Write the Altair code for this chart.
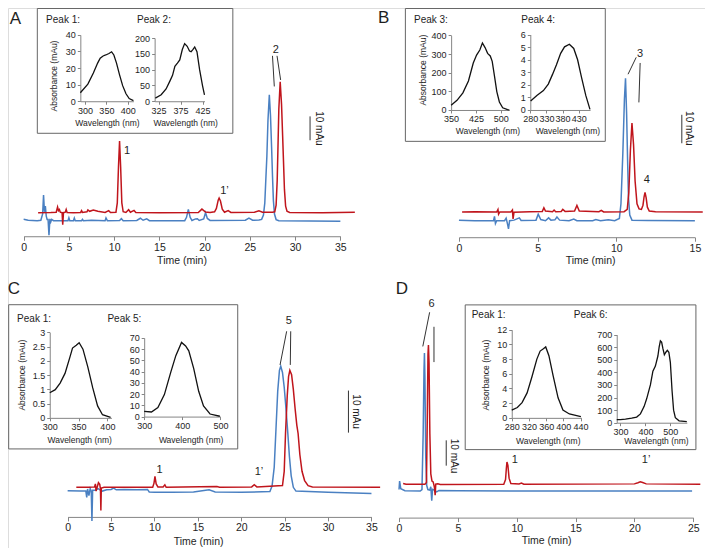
import altair as alt
import pandas as pd

# ---------------- chromatogram data: (time [min], signal [mAu]) ----------------
A_blue = [(0.0,0.6),(0.5,0.2),(1.0,0.1),(1.5,0.0),(1.9,0.2),(2.1,3.0),(2.2,11.5),(2.3,4.0),(2.4,6.5),(2.5,2.0),
          (2.6,0.5),(2.7,0.5),(2.8,-6.5),(2.9,0.8),(3.0,-0.5),(3.1,0.6),(3.3,0.0),(4.9,0.0),(5.0,1.3),(5.1,0.0),
          (5.5,0.0),(5.6,1.2),(5.7,0.0),(6.4,0.0),(6.5,0.6),(6.6,0.0),(7.5,0.2),(9.0,0.0),(9.1,1.2),(9.25,0.0),
          (10.6,0.1),(10.8,0.9),(11.0,0.0),(12.5,0.1),(12.9,1.1),(13.2,0.2),(13.6,0.8),(13.9,0.0),(17.8,0.0),
          (18.0,1.5),(18.2,5.1),(18.4,1.5),(18.6,0.1),(19.0,0.8),(19.2,0.9),(19.4,0.1),(19.9,0.8),(20.1,3.6),
          (20.3,1.0),(20.6,0.1),(24.5,0.2),(24.9,1.2),(25.3,0.2),(26.0,0.3),(26.3,0.6),(26.5,2.5),(26.65,8.0),
          (26.78,20.0),(26.88,29.0),(27.0,45.0),(27.15,56.4),(27.28,47.0),(27.4,33.0),(27.5,20.0),(27.6,9.0),
          (27.72,3.0),(27.9,0.5),(28.2,0.0),(35.0,-0.3)]
A_red = [(1.6,3.6),(3.0,3.7),(3.6,3.8),(3.75,6.1),(3.85,4.5),(3.95,5.0),(4.05,3.8),(4.25,3.6),(4.32,-1.8),(4.4,3.6),
         (4.6,3.8),(4.7,5.0),(4.8,3.7),(5.5,3.6),(6.3,3.7),(6.4,4.5),(6.5,3.7),(7.0,4.0),(7.1,4.8),(7.3,4.2),
         (7.7,4.8),(8.2,4.2),(9.0,3.7),(9.4,4.5),(9.6,3.7),(10.2,3.8),(10.35,8.0),(10.48,24.0),(10.6,35.7),
         (10.72,24.0),(10.85,8.0),(11.0,4.0),(11.3,3.7),(11.6,4.9),(11.8,3.8),(12.2,4.6),(12.4,3.7),(15.0,3.6),
         (19.3,3.7),(19.7,5.2),(20.1,3.9),(20.6,3.7),(21.1,4.0),(21.3,5.5),(21.5,9.2),(21.6,10.1),(21.75,8.8),
         (21.95,5.2),(22.2,3.8),(22.6,4.5),(22.9,3.7),(25.5,3.8),(26.0,4.4),(26.4,3.8),(27.5,3.8),(27.75,4.0),
         (27.9,7.0),(28.02,18.0),(28.1,32.0),(28.2,50.0),(28.35,62.2),(28.5,52.0),(28.62,38.0),(28.72,26.0),
         (28.82,14.0),(28.95,6.5),(29.1,4.2),(29.4,3.7),(33.0,3.6),(36.6,3.8)]

B_blue = [(0.0,0.2),(1.0,0.0),(2.2,0.0),(2.26,1.5),(2.32,-1.0),(2.4,0.0),(2.9,0.0),(3.0,0.9),(3.1,-1.5),(3.15,-2.9),
          (3.22,0.0),(3.5,0.2),(3.84,1.0),(3.95,0.1),(4.9,0.2),(5.04,2.3),(5.2,0.4),(5.5,0.0),(5.7,1.0),(5.85,0.2),
          (6.1,0.3),(6.23,1.3),(6.4,0.2),(7.0,0.0),(7.3,0.6),(7.5,0.0),(8.5,0.0),(8.7,0.4),(9.0,0.0),(9.5,0.3),
          (9.9,0.0),(10.2,0.8),(10.3,6.0),(10.42,24.0),(10.52,43.0),(10.59,50.6),(10.66,38.0),(10.72,22.0),
          (10.78,8.0),(10.86,2.0),(11.0,0.2),(12.0,0.1),(15.0,0.0)]
B_red = [(0.2,3.1),(1.0,3.2),(2.4,3.1),(2.48,4.0),(2.52,2.3),(2.6,3.1),(3.3,3.1),(3.4,3.8),(3.44,0.6),(3.5,3.0),
         (4.5,3.2),(5.3,3.3),(5.4,4.6),(5.5,3.4),(5.95,3.2),(6.05,3.8),(6.15,3.2),(6.5,3.3),(6.6,4.0),(6.75,3.3),
         (7.35,3.4),(7.5,5.4),(7.65,3.4),(8.9,3.2),(9.05,3.7),(9.2,3.1),(10.5,3.2),(10.7,4.0),(10.8,10.0),
         (10.9,25.0),(11.0,34.7),(11.1,27.0),(11.2,14.0),(11.32,6.0),(11.45,4.2),(11.6,4.0),(11.7,5.5),
         (11.77,8.5),(11.83,10.0),(11.9,8.2),(11.98,4.8),(12.1,3.4),(12.5,3.2),(15.5,3.1)]

C_blue = [(0.0,0.4),(1.5,0.3),(2.1,0.3),(2.2,-1.2),(2.3,0.8),(2.45,-0.8),(2.6,0.9),(2.72,0.3),(2.8,-6.8),(2.88,0.5),
          (3.2,0.5),(3.5,0.9),(4.0,0.3),(4.5,0.6),(5.0,0.7),(5.3,1.0),(5.6,0.6),(6.5,0.7),(8.0,0.6),(9.2,0.7),
          (9.4,0.1),(10.0,0.0),(12.0,0.0),(14.5,0.1),(16.3,0.6),(17.0,0.1),(20.0,0.0),(23.3,0.2),(23.55,1.5),
          (23.8,6.0),(24.0,15.0),(24.2,24.0),(24.4,29.0),(24.55,30.0),(24.75,28.5),(24.95,25.0),(25.15,20.0),
          (25.35,14.5),(25.55,8.5),(25.75,4.0),(26.0,1.2),(26.3,0.3),(30.0,0.0),(35.0,-0.3)]
C_red = [(1.0,1.2),(2.5,1.2),(3.1,1.3),(3.2,2.0),(3.28,0.3),(3.4,1.2),(3.55,2.3),(3.7,1.9),(3.78,0.8),(3.83,-4.3),
         (3.88,1.0),(4.2,1.2),(9.8,1.2),(9.95,2.2),(10.06,3.8),(10.2,2.0),(10.4,1.3),(11.0,1.3),(11.2,1.8),
         (11.35,1.2),(17.2,1.4),(17.5,1.2),(21.2,1.3),(21.5,1.8),(21.8,1.3),(24.75,1.6),(24.95,5.0),(25.1,14.0),
         (25.3,23.0),(25.45,27.5),(25.6,29.0),(25.8,28.0),(26.0,24.5),(26.2,20.0),(26.4,16.0),(26.55,14.0),
         (26.75,9.0),(27.0,5.0),(27.3,2.8),(27.7,1.6),(28.2,1.3),(36.0,1.2)]

D_blue = [(0.0,0.5),(0.05,3.5),(0.15,0.8),(0.5,0.1),(1.8,0.0),(1.95,0.5),(2.05,20.0),(2.12,42.0),(2.16,48.5),
          (2.2,40.0),(2.27,12.0),(2.35,2.0),(2.45,0.5),(2.6,0.3),(2.7,1.5),(2.78,-3.4),(2.85,0.6),(3.0,0.3),
          (3.2,-0.3),(3.4,0.2),(5.0,0.1),(10.0,0.0),(24.9,0.0)]
D_red = [(0.35,2.6),(0.6,2.4),(2.2,2.4),(2.33,3.0),(2.4,25.0),(2.46,48.0),(2.5,51.3),(2.55,45.0),(2.62,20.0),
         (2.7,6.0),(2.8,3.5),(2.9,3.2),(3.0,1.5),(3.07,-1.5),(3.12,2.4),(3.3,2.5),(3.5,2.3),(8.9,2.4),(9.05,4.0),
         (9.12,8.0),(9.17,10.2),(9.25,9.0),(9.35,4.5),(9.5,2.6),(10.2,2.5),(10.4,2.8),(10.6,2.4),(20.0,2.5),
         (20.3,2.9),(20.5,3.2),(20.7,3.0),(21.0,2.5),(25.6,2.4)]

A_ticks = [0, 5, 10, 15, 20, 25, 30, 35]
B_ticks = [0, 5, 10, 15]
C_ticks = [0, 5, 10, 15, 20, 25, 30, 35]
D_ticks = [0, 5, 10, 15, 20, 25]

# peak annotations (label, time, mAu)
A_labels = [("1", 11.42, 31.4), ("1\u2019", 22.2, 13.3), ("2", 27.87, 76.4)]
B_labels = [("3", 11.52, 59.1), ("4", 11.95, 14.3)]
C_labels = [("1", 10.59, 5.3), ("1\u2019", 22.04, 4.9), ("5", 25.48, 40.7)]
D_labels = [("1", 9.83, 10.9), ("1\u2019", 20.99, 10.9), ("6", 2.77, 65.7)]
# leader lines (t1, v1, t2, v2)
A_leaders = [(27.5, 73.8, 27.7, 60.1), (28.0, 73.8, 28.4, 63.0)]
B_leaders = [(11.27, 58.0, 10.75, 52.0), (11.52, 56.0, 11.44, 42.0)]
C_leaders = [(25.23, 38.3, 24.47, 30.3), (25.7, 38.3, 25.65, 30.3)]
D_leaders = [(2.6, 62.8, 2.02, 50.8), (2.97, 57.7, 2.97, 45.3)]
# 10 mAu scale bars (t, v_low, v_high) and their label anchor (t, v)
A_bar = (31.65, 36.0, 46.7); A_bar_txt = (32.6, 41.3)
B_bar = (14.17, 27.5, 37.6); B_bar_txt = (14.63, 32.8)
C_bar = (32.35, 14.2, 24.2); C_bar_txt = (33.2, 19.2)
D_bar = (4.01, 8.9, 17.8); D_bar_txt = (4.65, 12.3)

# ---------------- inset spectra: (wavelength [nm], absorbance [mAu]) ----------------
S_A1 = [(289,5.1),(306.6,10.3),(319.5,17),(329.5,23),(335.5,26),(342.3,27.3),(348.5,27.9),(356,28.8),(362.2,29.8),
        (367.5,27.9),(373.7,23),(380.5,16.2),(388.1,9.4),(395.9,4.5),(403.4,1.6),(413.3,0.4)]
S_A2 = [(317.6,10),(330.9,20.5),(342,39),(350.9,64.6),(356.7,82),(362,110.8),(367.8,121),(373.1,131),(378.9,164),
        (384.2,182.6),(390,174),(395.3,159),(398.9,157),(403.3,164),(407.1,172),(412.2,157),(418.2,100),
        (424.9,49),(429.3,20.5)]
S_B3 = [(350,25),(367.8,52),(385.6,92),(402.4,156),(417,252),(427,295),(436.8,322),(444.7,360),(452.7,335),
        (460.4,304),(468.4,290),(474.3,261),(481.2,182),(488.2,99),(496,43),(506,12),(520.8,2),(526,1)]
S_B4 = [(281,0.72),(300.3,1.16),(320.6,1.54),(335.7,2.06),(348.8,2.83),(361,3.6),(374,4.5),(386,5.02),(401,5.23),
        (414.5,4.89),(426.5,3.99),(438.8,2.57),(451.8,1.16),(464.8,0.05)]
S_C1 = [(300,0.88),(309.6,0.99),(318,1.22),(326.5,1.56),(335,2.13),(339.5,2.45),(346,2.55),(351,2.64),
        (357.6,2.41),(366,1.79),(374.6,1.05),(383,0.42),(391.5,0.11),(405.6,0.02)]
S_C2 = [(300,4.7),(319,4.1),(336,8.1),(353,19.6),(370,39.8),(383,54.2),(398,66),(408.7,62.8),(417,58.5),
        (430,42.7),(443,22.5),(455.6,9.5),(472.8,2.3),(498.5,0.3)]
S_D1 = [(280,1.06),(293,1.41),(304,2.07),(315.7,3.4),(327,5.6),(338.4,8.0),(346,9.1),(353.6,9.4),(359,9.66),
        (366.4,8.47),(376,5.8),(387.7,2.73),(399,1.06),(414,0.53),(440.7,0.18)]
S_D2 = [(285,25),(300,25),(320,28),(345,36),(365,45),(380,70),(395,130),(405,190),(420,300),(430,410),
        (440,450),(450,530),(455,600),(460,650),(465,640),(470,590),(476,540),(482,560),(488,575),(494,560),
        (500,480),(507,250),(513,100),(520,40),(535,15),(566,8)]

# ---------------- layout (reference pixel coordinates) ----------------
W, H = 697, 540
SX, SY = W / 713, H / 556
FONT = "Liberation Sans"
BLUE, RED = "#4A80C2", "#C0151C"
INK, AXC = "#1e1e1e", "#858585"

MAIN = {
    "A": dict(t0=16, kt=9.257, v0=219, kv=2.3, axis_y=235, tmax=35, title=(178, 260)),
    "B": dict(t0=461.3, kt=16.09, v0=219, kv=2.9, axis_y=236, tmax=15, title=(596, 260)),
    "C": dict(t0=61, kt=8.88, v0=498.7, kv=4.33, axis_y=524, tmax=35, title=(195, 549.5)),
    "D": dict(t0=400, kt=12.04, v0=497.3, kv=2.93, axis_y=524.7, tmax=25, title=(551, 549)),
}
INSET = {
    "A1": dict(xd=[289, 413.3], xpx=[74, 128.3], yd=[0, 40], ypx=[96, 27.7], xt=[300, 350, 400], yt=[0, 10, 20, 30, 40], wl=(101.7, 118)),
    "A2": dict(xd=[316, 429.3], xpx=[150, 201], yd=[0, 200], ypx=[96, 31], xt=[325, 375, 425], yt=[0, 50, 100, 150, 200], wl=(181.7, 118)),
    "B3": dict(xd=[350, 526], xpx=[453.3, 512.8], yd=[0, 400], ypx=[105, 28.3], xt=[350, 425, 500], yt=[0, 100, 200, 300, 400], wl=(491, 126.7)),
    "B4": dict(xd=[280, 465], xpx=[534.3, 595.4], yd=[0, 6], ypx=[105, 27.3], xt=[280, 330, 380, 430], yt=[0, 1, 2, 3, 4, 5, 6], wl=(572.7, 126.7)),
    "C1": dict(xd=[300, 407], xpx=[42.7, 105.8], yd=[0, 3], ypx=[422, 334], xt=[300, 350, 400], yt=[0, 0.5, 1, 1.5, 2, 2.5, 3], wl=(73.3, 445.3)),
    "C2": dict(xd=[300, 500], xpx=[139.3, 217.3], yd=[0, 70], ypx=[420.7, 339.7], xt=[300, 400, 500], yt=[0, 10, 20, 30, 40, 50, 60, 70], wl=(187.3, 445.3)),
    "D1": dict(xd=[280, 442], xpx=[515.3, 586.6], yd=[0, 12], ypx=[422, 331.3], xt=[280, 320, 360, 400, 440], yt=[0, 2, 4, 6, 8, 10, 12], wl=(552.7, 445.7)),
    "D2": dict(xd=[285, 566], xpx=[622.7, 694.4], yd=[0, 700], ypx=[427, 336.3], xt=[300, 400, 500], yt=[0, 100, 200, 300, 400, 500, 600, 700], wl=(663.3, 445.7)),
}
BOXES = {"A": (30, 0.5, 230, 129), "B": (406.5, 0.5, 611, 137.3), "C": (0.7, 305.5, 235, 454), "D": (467.7, 305.7, 703.7, 454.7)}
ABS_TXT = {"A": (46.7, 70), "B": (425, 64), "C": (14, 378), "D": (488.7, 378)}
PEAK_TXT = {"A": [("Peak 1:", 39, 12), ("Peak 2:", 132, 12)],
            "B": [("Peak 3:", 415.3, 12.3), ("Peak 4:", 525, 12.3)],
            "C": [("Peak 1:", 9.3, 319.7), ("Peak 5:", 101.7, 319.7)],
            "D": [("Peak 1:", 474.3, 316.3), ("Peak 6:", 578.7, 316.3)]}
LETTERS = {"A": (7.5, 11), "B": (384.3, 10.5), "C": (6, 289), "D": (403, 289)}

ONE = pd.DataFrame({"k": [0]})


def text_at(s, x, y, size, align="center", angle=0, color=INK):
    return alt.Chart(pd.DataFrame({"s": [s]})).mark_text(
        font=FONT, fontSize=size, align=align, baseline="middle", angle=angle, color=color
    ).encode(x=alt.value(x * SX), y=alt.value(y * SY), text="s:N")


def main_panel(key, blue, red, ticks, labels, leaders, bar, bartxt):
    g = MAIN[key]
    xs = alt.Scale(domain=[0, g["tmax"]], range=[g["t0"] * SX, (g["t0"] + g["tmax"] * g["kt"]) * SX], nice=False, zero=False)
    ys = alt.Scale(domain=[0, 10], range=[g["v0"] * SY, (g["v0"] - 10 * g["kv"]) * SY], nice=False, zero=False)
    xax = alt.Axis(orient="bottom", offset=g["axis_y"] * SY - H, values=ticks, title=None, grid=False,
                   tickSize=4, labelPadding=2, labelFontSize=10.5, labelFont=FONT, labelColor=INK,
                   domainColor=AXC, tickColor=AXC, labelFlush=False, labelOverlap=False, labelBound=False)
    Y = alt.Y("v:Q", scale=ys, axis=None)
    out = [
        alt.Chart(pd.DataFrame(blue, columns=["t", "v"])).mark_line(color=BLUE, strokeWidth=1.5)
        .encode(x=alt.X("t:Q", scale=xs, axis=xax), y=Y),
        alt.Chart(pd.DataFrame(red, columns=["t", "v"])).mark_line(color=RED, strokeWidth=1.5)
        .encode(x=alt.X("t:Q", scale=xs, axis=None), y=Y),
        alt.Chart(pd.DataFrame(labels, columns=["s", "t", "v"])).mark_text(font=FONT, fontSize=11, color=INK, baseline="middle")
        .encode(x=alt.X("t:Q", scale=xs, axis=None), y=Y, text="s:N"),
        alt.Chart(pd.DataFrame(leaders, columns=["t", "v", "t2", "v2"])).mark_rule(color="#333333", strokeWidth=1)
        .encode(x=alt.X("t:Q", scale=xs, axis=None), x2="t2:Q", y=Y, y2="v2:Q"),
        alt.Chart(pd.DataFrame([bar], columns=["t", "v", "v2"])).mark_rule(color="#333333", strokeWidth=1)
        .encode(x=alt.X("t:Q", scale=xs, axis=None), y=Y, y2="v2:Q"),
        alt.Chart(pd.DataFrame([("10 mAu",) + tuple(bartxt)], columns=["s", "t", "v"]))
        .mark_text(font=FONT, fontSize=10, color=INK, angle=90, baseline="middle", align="center")
        .encode(x=alt.X("t:Q", scale=xs, axis=None), y=Y, text="s:N"),
        text_at("Time (min)", g["title"][0], g["title"][1], 10.5),
    ]
    return out


def inset(key, spec):
    g = INSET[key]
    xs = alt.Scale(domain=g["xd"], range=[g["xpx"][0] * SX, g["xpx"][1] * SX], nice=False, zero=False)
    ys = alt.Scale(domain=g["yd"], range=[g["ypx"][0] * SY, g["ypx"][1] * SY], nice=False, zero=False)
    common = dict(grid=False, title=None, tickSize=3, labelPadding=2, labelFontSize=9, labelFont=FONT,
                  labelColor=INK, domainColor=AXC, tickColor=AXC, labelOverlap=False, labelBound=False, format="~f")
    xax = alt.Axis(orient="bottom", offset=g["ypx"][0] * SY - H, values=g["xt"], labelFlush=False, **common)
    yax = alt.Axis(orient="left", offset=-g["xpx"][0] * SX, values=g["yt"], **common)
    return [
        alt.Chart(pd.DataFrame(spec, columns=["w", "a"])).mark_line(color="#111111", strokeWidth=1.3)
        .encode(x=alt.X("w:Q", scale=xs, axis=xax), y=alt.Y("a:Q", scale=ys, axis=yax)),
        text_at("Wavelength (nm)", g["wl"][0], g["wl"][1], 8.5),
    ]


def frame(key):
    x1, y1, x2, y2 = BOXES[key]
    out = [alt.Chart(ONE).mark_rect(fillOpacity=0, stroke="#666666", strokeWidth=1)
           .encode(x=alt.value(x1 * SX), x2=alt.value(x2 * SX), y=alt.value(y1 * SY), y2=alt.value(y2 * SY))]
    ax, ay = ABS_TXT[key]
    out.append(text_at("Absorbance (mAu)", ax, ay, 8.5, angle=270))
    for s, x, y in PEAK_TXT[key]:
        out.append(text_at(s, x, y, 10, align="left"))
    lx, ly = LETTERS[key]
    out.append(text_at(key, lx, ly, 17))
    return out


layers = []
layers += main_panel("A", A_blue, A_red, A_ticks, A_labels, A_leaders, A_bar, A_bar_txt)
layers += main_panel("B", B_blue, B_red, B_ticks, B_labels, B_leaders, B_bar, B_bar_txt)
layers += main_panel("C", C_blue, C_red, C_ticks, C_labels, C_leaders, C_bar, C_bar_txt)
layers += main_panel("D", D_blue, D_red, D_ticks, D_labels, D_leaders, D_bar, D_bar_txt)
for k, s in [("A1", S_A1), ("A2", S_A2), ("B3", S_B3), ("B4", S_B4), ("C1", S_C1), ("C2", S_C2), ("D1", S_D1), ("D2", S_D2)]:
    layers += inset(k, s)
for k in ["A", "B", "C", "D"]:
    layers += frame(k)

chart = (
    alt.layer(*layers)
    .resolve_scale(x="independent", y="independent")
    .resolve_axis(x="independent", y="independent")
    .properties(width=W, height=H, padding=0, autosize=alt.AutoSizeParams(type="none"))
    .configure_view(stroke=None)
    .configure(background="white")
)
chart.save("out.html", embed_options={"renderer": "svg", "actions": False})
